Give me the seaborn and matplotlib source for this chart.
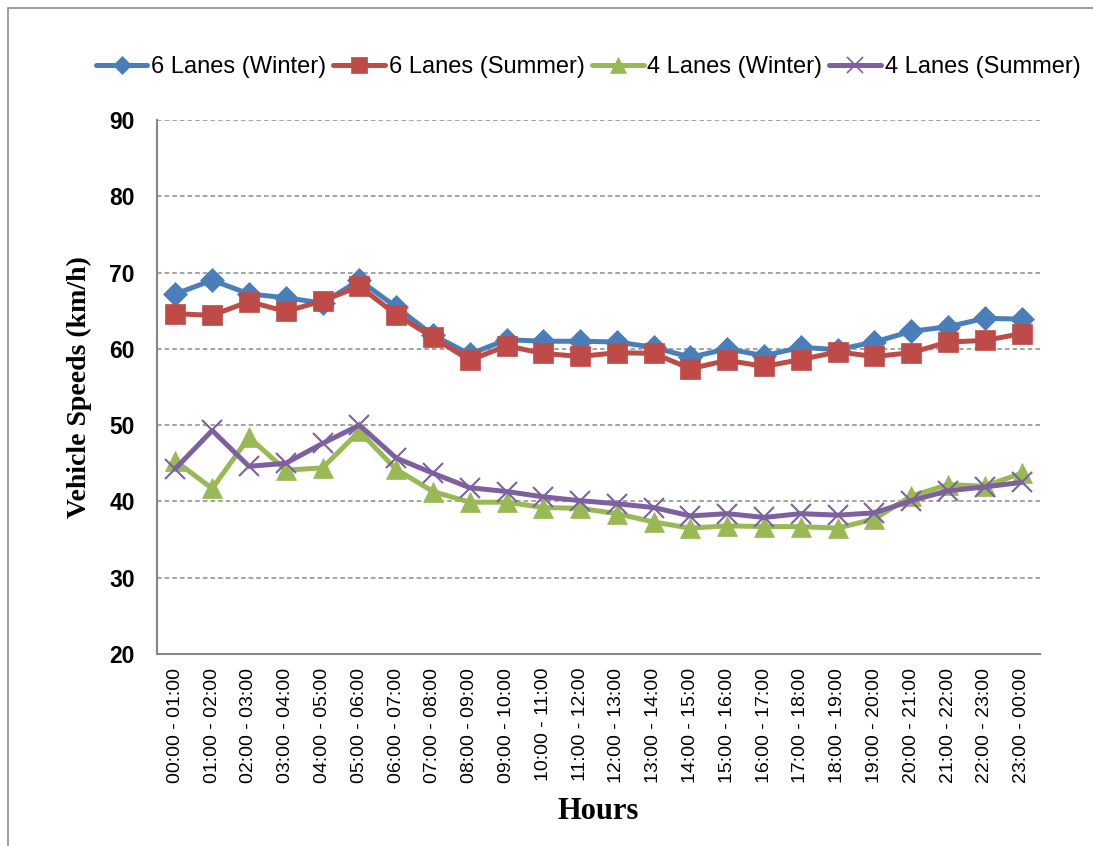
import matplotlib
matplotlib.use("Agg")
import matplotlib.pyplot as plt
import matplotlib.patches as mpatches
import seaborn as sns
import pandas as pd

hours = [f"{h:02d}:00 - {(h + 1) % 24:02d}:00" for h in range(24)]

six_winter = [67.2, 69.0, 67.2, 66.7, 66.0, 69.0, 65.5, 61.8, 59.3, 61.2, 61.0, 61.0,
              60.9, 60.2, 58.9, 60.0, 59.1, 60.2, 59.9, 60.9, 62.3, 62.9, 64.0, 63.9]
six_summer = [64.6, 64.4, 66.2, 64.9, 66.3, 68.2, 64.5, 61.5, 58.5, 60.4, 59.4, 59.0,
              59.5, 59.4, 57.4, 58.5, 57.7, 58.6, 59.6, 59.0, 59.5, 60.9, 61.1, 62.0]
four_winter = [45.3, 41.7, 48.4, 44.1, 44.4, 49.2, 44.2, 41.3, 39.9, 39.9, 39.2, 39.1,
               38.4, 37.3, 36.5, 36.8, 36.7, 36.7, 36.5, 37.7, 40.7, 42.2, 42.0, 43.7]
four_summer = [44.3, 49.3, 44.6, 45.0, 47.6, 50.0, 45.7, 43.7, 41.8, 41.3, 40.6, 40.1,
               39.7, 39.2, 38.1, 38.4, 37.9, 38.4, 38.2, 38.5, 40.1, 41.4, 41.9, 42.5]

series_names = ["6 Lanes (Winter)", "6 Lanes (Summer)", "4 Lanes (Winter)", "4 Lanes (Summer)"]
series_values = [six_winter, six_summer, four_winter, four_summer]
colors = ["#4A7EBB", "#BE4B48", "#98B954", "#7D60A0"]
markers = ["D", "s", "^", "x"]
marker_sizes = [12, 14, 14, 14]

sns.set_theme(style="white")
plt.rcParams["font.family"] = ["Liberation Sans", "DejaVu Sans"]
plt.rcParams["text.color"] = "black"
plt.rcParams["xtick.color"] = "black"
plt.rcParams["ytick.color"] = "black"
plt.rcParams["axes.labelcolor"] = "black"

fig = plt.figure(figsize=(10.93, 8.46), dpi=100)
ax = fig.add_axes([157 / 1093, 1 - 654 / 846, (1040 - 157) / 1093, (654 - 120) / 846])

# outer chart frame
fig.patches.append(mpatches.Rectangle((8 / 1093, -0.1), 1.2, 1 - 8 / 846 + 0.1,
                                      transform=fig.transFigure, fill=False,
                                      edgecolor="#8c8c8c", linewidth=1.2, zorder=0))

frames = []
for name, vals in zip(series_names, series_values):
    frames.append(pd.DataFrame({"x": range(len(hours)), "speed": vals, "series": name}))
df = pd.concat(frames, ignore_index=True)

handles = []
for name, c, m, ms in zip(series_names, colors, markers, marker_sizes):
    sub = df[df["series"] == name]
    sns.lineplot(data=sub, x="x", y="speed", ax=ax, color=c, linewidth=3.6,
                 marker=m, markersize=ms, markeredgecolor=c,
                 markeredgewidth=1.5 if m == "x" else 0.5, legend=False)
    h, = ax.plot([], [], color=c, linewidth=3.6, marker=m, markersize=ms * 0.8,
                 markeredgecolor=c, markeredgewidth=1.2 if m == "x" else 0.5)
    handles.append(h)

ax.set_xlim(-0.5, len(hours) - 0.5)
ax.set_ylim(20, 90)
ax.set_yticks(range(20, 91, 10))
ax.set_xticks(range(len(hours)))
ax.set_xticklabels(hours, rotation=90, fontsize=14)
for lbl in ax.get_yticklabels():
    lbl.set_fontweight("bold")
    lbl.set_fontsize(16.5)
ax.tick_params(axis="y", length=0, pad=16)
ax.tick_params(axis="x", length=0, pad=10)

ax.grid(axis="y", linestyle=(0, (3, 2)), color="#8a8a8a", linewidth=1.1)
ax.set_axisbelow(True)
for side in ["top", "right"]:
    ax.spines[side].set_visible(False)
for side in ["left", "bottom"]:
    ax.spines[side].set_color("#868686")
    ax.spines[side].set_linewidth(1.5)

ax.set_xlabel("Hours", fontsize=22, fontweight="bold", family="Liberation Serif", labelpad=10)
ax.set_ylabel("Vehicle Speeds (km/h)", fontsize=20, fontweight="bold", family="Liberation Serif",
              labelpad=12)

fig.legend(handles, series_names, loc="center", bbox_to_anchor=(588 / 1093, 1 - 67 / 846),
           ncol=4, frameon=False, handlelength=2.2, handletextpad=0.15, columnspacing=0.3,
           prop={"family": ["Liberation Sans Narrow", "Liberation Sans"], "size": 17})

fig.savefig("out.png", dpi=100)
